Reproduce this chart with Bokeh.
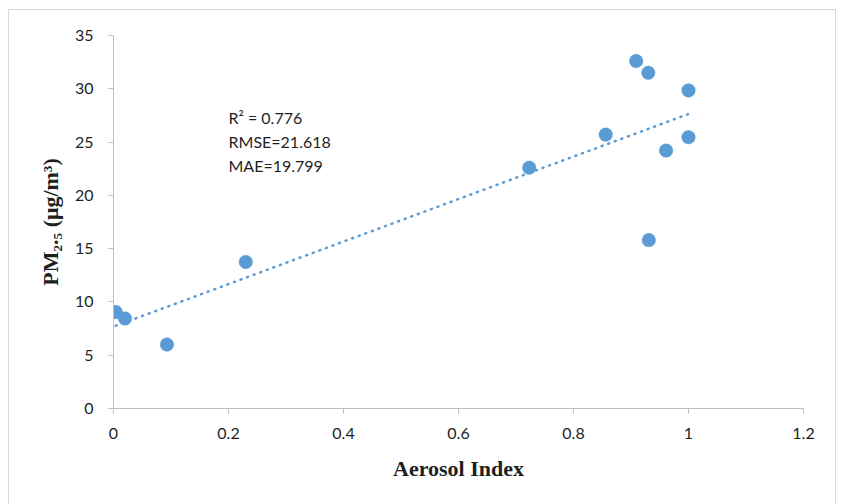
import numpy as np
from bokeh.plotting import figure
from bokeh.models import Range1d, FixedTicker, CustomJSTickFormatter, Label
from bokeh.embed import file_html
from bokeh.resources import INLINE

# Aerosol index vs. PM2.5 observations
aerosol_index = [0.004, 0.020, 0.093, 0.230, 0.723, 0.856, 0.909, 0.930, 0.931, 0.961, 1.000, 1.000]
pm25 = [9.05, 8.45, 6.0, 13.75, 22.6, 25.7, 32.6, 31.5, 15.8, 24.2, 25.45, 29.85]

x_ticks = [0, 0.2, 0.4, 0.6, 0.8, 1.0, 1.2]
x_tick_labels = ["0", "0.2", "0.4", "0.6", "0.8", "1", "1.2"]
y_ticks = [0, 5, 10, 15, 20, 25, 30, 35]

stats_lines = ["R² = 0.776", "RMSE=21.618", "MAE=19.799"]
x_title = "Aerosol Index"
y_title = "PM₂.₅ (μg/m³)"

BLUE = "#5B9BD5"
AXIS = "#BFBFBF"
TEXT = "#1f1f1f"

# chart box sits 9px in from the left and 10px down from the top
OX, OY = 9, 10
W, H = 828, 500
FL, FR, FT, FB = 113 - OX, 803 - OX, 35 - OY, 408 - OY  # frame edges inside the chart box

p = figure(width=W, height=H, x_range=Range1d(0, 1.2), y_range=Range1d(0, 35),
           output_backend="svg", toolbar_location=None, title=None,
           min_border_left=FL, min_border_right=W - FR,
           min_border_top=FT, min_border_bottom=H - FB)
p.margin = (OY - 1, 0, 0, OX - 1)
p.styles = {"border": "1px solid #D9D9D9"}
p.outline_line_color = None
p.background_fill_color = "white"
p.border_fill_color = "white"
p.grid.visible = False

for ax in (p.xaxis[0], p.yaxis[0]):
    ax.axis_line_color = AXIS
    ax.major_tick_line_color = AXIS
    ax.major_tick_out = 5
    ax.major_tick_in = 0
    ax.minor_tick_line_color = None
    ax.major_label_text_font = "Lato"
    ax.major_label_text_font_size = "16px"
    ax.major_label_text_color = TEXT
    ax.axis_label_text_font = "Liberation Serif"
    ax.axis_label_text_font_style = "bold"
    ax.axis_label_text_font_size = "22px"
    ax.axis_label_text_color = TEXT

p.xaxis.ticker = FixedTicker(ticks=x_ticks)
p.xaxis.formatter = CustomJSTickFormatter(
    args=dict(tick_values=x_ticks, tick_texts=x_tick_labels),
    code="const i = tick_values.findIndex(t => Math.abs(t - tick) < 1e-9); "
         "return i >= 0 ? tick_texts[i] : String(tick);")
p.xaxis.major_label_standoff = 14
p.xaxis.axis_label = x_title
p.xaxis.axis_label_standoff = 14

p.yaxis.ticker = FixedTicker(ticks=y_ticks)
p.yaxis.major_label_standoff = 15
p.yaxis.axis_label = y_title
p.yaxis.axis_label_standoff = 9

# linear least-squares trend line across the observed range
slope, intercept = np.polyfit(aerosol_index, pm25, 1)
tx = np.array([min(aerosol_index), max(aerosol_index)])
p.line(tx, slope * tx + intercept, line_color=BLUE, line_width=2.5,
       line_dash="1 6", line_cap="round")

p.scatter(aerosol_index, pm25, size=13.5, fill_color=BLUE, line_color=BLUE, line_width=0.5)

# statistics block, placed in pixels from the frame's bottom-left corner
for i, line in enumerate(stats_lines):
    p.add_layout(Label(x=228 - 113, y=408 - (117 + 24 * i), x_units="screen", y_units="screen",
                       text=line, text_font="Lato", text_font_size="16px", text_color=TEXT,
                       text_baseline="alphabetic", text_align="left"))

open("out.html", "w").write(file_html(p, INLINE))
